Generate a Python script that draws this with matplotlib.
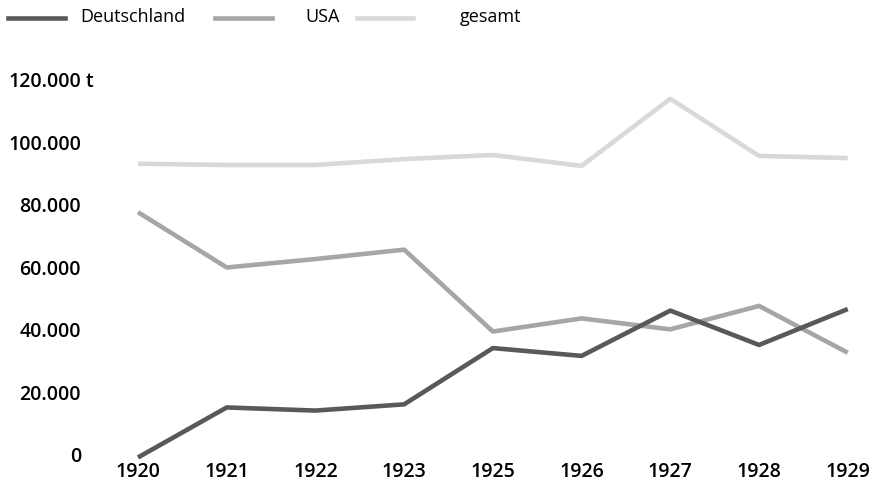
import numpy as np
import matplotlib.pyplot as plt
from matplotlib.lines import Line2D
import matplotlib.transforms as mtransforms

plt.rcParams['font.family'] = ['Open Sans', 'DejaVu Sans']

# data
years = ['1920', '1921', '1922', '1923', '1925', '1926', '1927', '1928', '1929']
deutschland = [0, 16000, 15000, 17000, 35000, 32500, 47000, 36000, 47500]
usa = [78500, 60800, 63500, 66500, 40300, 44500, 41000, 48500, 33500]
gesamt = [94000, 93600, 93600, 95500, 96800, 93300, 114800, 96500, 95800]

series = ['Deutschland', 'USA', 'gesamt']
colors = ['#595959', '#a6a6a6', '#d9d9d9']
yticks = [0, 20000, 40000, 60000, 80000, 100000, 120000]

fig = plt.figure(figsize=(8.77, 4.94), dpi=100)
ax = fig.add_axes([0.127, 0.074, 0.870, 0.759])

x = np.arange(len(years))
for vals, c in zip([gesamt, usa, deutschland], colors[::-1]):
    ax.plot(x, vals, color=c, lw=3.3, clip_on=False, solid_capstyle='butt')

ax.set_xlim(-0.3, len(years) - 0.7)
ax.set_ylim(0, 120000)
ax.set_xticks(x)
ax.set_xticklabels(years, fontsize=14, fontweight='semibold')
ax.tick_params(axis='x', length=0, pad=3)
ax.set_yticks(yticks)
ax.set_yticklabels([])
ax.tick_params(axis='y', length=0)
for s in ax.spines.values():
    s.set_visible(False)

# y labels right aligned, unit "t" after the top one
trans = mtransforms.blended_transform_factory(fig.transFigure, ax.transData)
for v in yticks:
    lab = f'{v:,}'.replace(',', '.')
    ax.text(81 / 877, v, lab, transform=trans, ha='right', va='center',
            fontsize=14, fontweight='semibold')
ax.text(86 / 877, yticks[-1], 't', transform=trans, ha='left', va='center',
        fontsize=14, fontweight='semibold')

# legend at top
leg_lines = [(8, 65, 80), (215, 272, 305), (357, 413, 460)]
for (x0, x1, tx), name, c in zip(leg_lines, series, colors):
    fig.add_artist(Line2D([x0 / 877, x1 / 877], [1 - 18 / 494] * 2,
                          color=c, lw=3.3, transform=fig.transFigure))
    fig.text(tx / 877, 1 - 17 / 494, name, ha='left', va='center', fontsize=13)

fig.savefig('out.png', dpi=100)
